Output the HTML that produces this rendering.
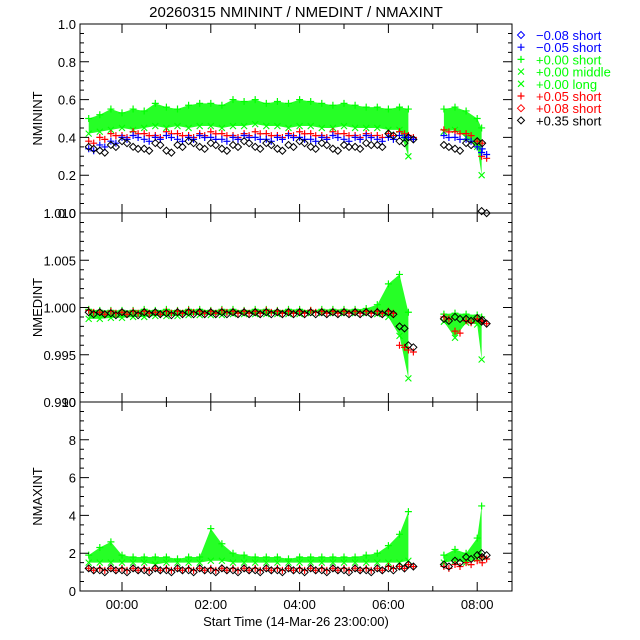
<!DOCTYPE html>
<html><head><meta charset="utf-8"><style>
body{margin:0;background:#fff;}
svg{display:block;font-family:"Liberation Sans",sans-serif;}
</style></head><body>
<svg id="c" width="640" height="640" xmlns="http://www.w3.org/2000/svg">
<text x="296" y="17" font-size="15" text-anchor="middle">20260315 NMININT / NMEDINT / NMAXINT</text>
<g id="legend"></g>
<g id="plots"></g>
<text x="296" y="626" font-size="13" text-anchor="middle">Start Time (14-Mar-26 23:00:00)</text>
</svg>
<script>
const times=[-0.75,-0.5,-0.25,0,0.25,0.5,0.75,1,1.25,1.5,1.75,2,2.25,2.5,2.75,3,3.25,3.5,3.75,4,4.25,4.5,4.75,5,5.25,5.5,5.75,6,6.25,6.45,7.25,7.5,7.75,8.0,8.1];
// panel 1 NMININT
const p1GreenHi=[0.5,0.52,0.55,0.53,0.55,0.54,0.58,0.56,0.55,0.57,0.58,0.58,0.57,0.6,0.59,0.6,0.58,0.59,0.58,0.6,0.59,0.58,0.57,0.58,0.57,0.56,0.56,0.55,0.56,0.55,0.55,0.56,0.54,0.5,0.45];
const p1GreenLo=[0.42,0.43,0.44,0.45,0.44,0.45,0.46,0.45,0.46,0.45,0.46,0.46,0.45,0.46,0.46,0.47,0.46,0.46,0.45,0.46,0.46,0.45,0.45,0.46,0.45,0.45,0.45,0.44,0.44,0.3,0.43,0.44,0.4,0.35,0.2];
const p1Red=[0.38,0.4,0.42,0.41,0.43,0.42,0.41,0.43,0.42,0.41,0.42,0.43,0.42,0.41,0.42,0.43,0.42,0.41,0.42,0.43,0.42,0.41,0.43,0.42,0.41,0.42,0.41,0.42,0.43,0.41,0.44,0.43,0.42,0.38,0.3];
const p1Blue=[0.34,0.36,0.38,0.4,0.41,0.39,0.4,0.41,0.39,0.4,0.41,0.4,0.39,0.4,0.41,0.4,0.39,0.4,0.41,0.4,0.39,0.4,0.41,0.39,0.4,0.41,0.39,0.4,0.41,0.4,0.41,0.4,0.39,0.35,0.32];
const p1Black=[0.35,0.33,0.36,0.38,0.35,0.34,0.37,0.33,0.36,0.38,0.35,0.37,0.34,0.36,0.38,0.35,0.37,0.34,0.36,0.38,0.35,0.37,0.34,0.36,0.35,0.37,0.36,0.42,0.38,0.4,0.36,0.34,0.37,0.38,0.01];
// panel 2 NMEDINT
const p2GreenHi=[0.9998,0.9997,0.9997,0.9997,0.9997,0.9998,0.9997,0.9998,0.9997,0.9998,0.9998,0.9997,0.9998,0.9998,0.9997,0.9998,0.9998,0.9997,0.9998,0.9998,0.9997,0.9998,0.9998,0.9998,0.9998,0.9999,1.0003,1.0025,1.0035,0.9995,0.9993,0.9994,0.9993,0.9992,0.9990];
const p2GreenLo=[0.9988,0.9988,0.9989,0.9989,0.9990,0.9990,0.9991,0.9991,0.9991,0.9992,0.9992,0.9992,0.9992,0.9993,0.9993,0.9993,0.9993,0.9993,0.9993,0.9993,0.9994,0.9994,0.9994,0.9994,0.9994,0.9994,0.9993,0.9990,0.9970,0.9925,0.9985,0.9968,0.9984,0.9982,0.9945];
const p2Red=[0.9997,0.9995,0.9996,0.9995,0.9996,0.9996,0.9995,0.9996,0.9996,0.9997,0.9996,0.9996,0.9997,0.9996,0.9996,0.9996,0.9997,0.9996,0.9996,0.9996,0.9997,0.9996,0.9996,0.9996,0.9996,0.9996,0.9996,0.9996,0.9960,0.9955,0.9990,0.9975,0.9986,0.9988,0.9985];
const p2Black=[0.9995,0.9995,0.9994,0.9995,0.9994,0.9995,0.9995,0.9994,0.9995,0.9995,0.9995,0.9995,0.9995,0.9995,0.9995,0.9995,0.9995,0.9995,0.9995,0.9995,0.9995,0.9995,0.9995,0.9995,0.9995,0.9995,0.9995,0.9995,0.9980,0.9960,0.9988,0.9990,0.9988,0.9989,0.9985];
// panel 3 NMAXINT
const p3GreenHi=[1.9,2.3,2.6,1.9,1.8,1.8,1.8,1.8,1.7,1.8,1.8,3.3,2.5,2.0,1.9,1.8,1.8,1.8,1.7,1.8,1.8,1.8,1.8,1.8,1.8,1.9,2.0,2.4,3.0,4.2,1.9,2.2,2.0,2.8,4.5];
const p3GreenLo=[1.5,1.5,1.5,1.5,1.5,1.5,1.4,1.5,1.5,1.5,1.5,1.6,1.6,1.5,1.5,1.5,1.5,1.5,1.5,1.5,1.5,1.5,1.5,1.5,1.5,1.5,1.5,1.5,1.5,1.6,1.5,1.6,1.5,1.7,1.8];
const p3Red=[1.2,1.2,1.2,1.2,1.2,1.2,1.2,1.2,1.2,1.2,1.2,1.2,1.2,1.2,1.2,1.2,1.2,1.2,1.2,1.2,1.2,1.2,1.2,1.2,1.2,1.2,1.2,1.3,1.3,1.4,1.3,1.4,1.5,1.6,1.8];
const p3Black=[1.2,1.1,1.2,1.1,1.2,1.1,1.2,1.1,1.2,1.1,1.2,1.1,1.2,1.1,1.2,1.1,1.2,1.1,1.2,1.1,1.2,1.1,1.2,1.1,1.2,1.1,1.2,1.2,1.3,1.4,1.4,1.6,1.8,1.9,2.0];
const xTickLabels=["00:00","02:00","04:00","06:00","08:00"];
const p1Ticks=["0.0","0.2","0.4","0.6","0.8","1.0"];
const p2Ticks=["0.990","0.995","1.000","1.005","1.010"];
const p3Ticks=["0","2","4","6","8","10"];

const NS="http://www.w3.org/2000/svg";
const svg=document.getElementById('c');
const plots=document.getElementById('plots');
const L=80,R=512;
const X=t=>122+t*44.4;
function mk(tag,attrs,parent){const e=document.createElementNS(NS,tag);for(const k in attrs)e.setAttribute(k,attrs[k]);(parent||plots).appendChild(e);return e;}
function marker(g,type,x,y,col){
  if(type==='plus'){mk('path',{d:`M${x-3.5},${y}H${x+3.5}M${x},${y-3.5}V${y+3.5}`,stroke:col,'stroke-width':1.2,fill:'none'},g);}
  else if(type==='x'){mk('path',{d:`M${x-3},${y-3}L${x+3},${y+3}M${x-3},${y+3}L${x+3},${y-3}`,stroke:col,'stroke-width':1.1,fill:'none'},g);}
  else{mk('path',{d:`M${x},${y-3.5}L${x+3.5},${y}L${x},${y+3.5}L${x-3.5},${y}Z`,stroke:col,'stroke-width':1,fill:'none'},g);}
}
const panels=[
 {top:24,bot:213,min:0,max:1,ticks:p1Ticks,title:'NMININT',minor:4,g:[p1GreenHi,p1GreenLo],s:[[p1Red,'plus','#f00'],[p1Blue,'plus','#00f'],[p1Black,'diamond','#000']]},
 {top:213,bot:402,min:0.99,max:1.01,ticks:p2Ticks,title:'NMEDINT',minor:5,g:[p2GreenHi,p2GreenLo],s:[[p2Red,'plus','#f00'],[p2Black,'diamond','#000']]},
 {top:402,bot:591,min:0,max:10,ticks:p3Ticks,title:'NMAXINT',minor:4,g:[p3GreenHi,p3GreenLo],s:[[p3Red,'plus','#f00'],[p3Black,'diamond','#000']]}
];
panels.forEach((p,pi)=>{
  const Y=v=>p.bot-(v-p.min)/(p.max-p.min)*(p.bot-p.top);
  const g=mk('g',{});
  
  
  // green bands per segment
  [[0,30],[30,35]].forEach(([a,b])=>{
    let d='';
    for(let i=a;i<b;i++)d+=(i===a?'M':'L')+X(times[i])+','+Y(p.g[0][i]);
    for(let i=b-1;i>=a;i--)d+='L'+X(times[i])+','+Y(p.g[1][i]);
    const band=mk('path',{d:d+'Z',fill:'#00ff00',opacity:0.85},g);
    
    
  });
  times.forEach((t,i)=>{marker(g,'plus',X(t),Y(p.g[0][i]),'#0f0');marker(g,'x',X(t),Y(p.g[1][i]),'#0f0');});
  p.s.forEach(([arr,type,col])=>{times.forEach((t,i)=>{marker(g,type,X(t),Y(arr[i]),col);marker(g,type,X(t)+5,Y(arr[i])+2,col);});});
  // frame
  const fr=mk('rect',{x:L,y:p.top,width:R-L,height:p.bot-p.top,fill:'none',stroke:'#000','stroke-width':1},g);
  
  
  // y ticks
  const n=p.ticks.length-1;
  for(let k=0;k<=n;k++){
    const v=p.min+(p.max-p.min)*k/n, y=Y(v);
    mk('path',{d:`M${L},${y}h9M${R},${y}h-9`,stroke:'#000'},g);
    const tx=mk('text',{x:L-4,y:y+5,'font-size':13,'text-anchor':'end'},g);
    tx.textContent=p.ticks[k];
    
    
    if(k<n)for(let m=1;m<p.minor;m++){const ym=y-(p.bot-p.top)/n*m/p.minor;mk('path',{d:`M${L},${ym}h4M${R},${ym}h-4`,stroke:'#000'},g);}
  }
  // x ticks
  for(let h=0;h<=8;h++){const x=X(h);const len=h%2===0?9:5;mk('path',{d:`M${x},${p.bot}v-${len}M${x},${p.top}v${len}`,stroke:'#000'},g);}
  const yt=mk('text',{x:0,y:0,'font-size':13,'text-anchor':'middle',transform:`translate(42,${(p.top+p.bot)/2}) rotate(-90)`},g);
  yt.textContent=p.title;
  
  
});
xTickLabels.forEach((s,i)=>{const t=mk('text',{x:X(i*2),y:609,'font-size':13,'text-anchor':'middle'});t.textContent=s;
  
  });
// legend
const leg=document.getElementById('legend');
const legendItems=[['diamond','#00f','\u22120.08 short'],['plus','#00f','\u22120.05 short'],['plus','#0f0','+0.00 short'],['x','#0f0','+0.00 middle'],['x','#0f0','+0.00 long'],['plus','#f00','+0.05 short'],['diamond','#f00','+0.08 short'],['diamond','#000','+0.35 short']];
legendItems.forEach(([type,col,lab],i)=>{
  const y=35+i*12.2;
  const g=mk('g',{},leg);
  
  
  marker(g,type,521,y,col);
  const t=mk('text',{x:536,y:y+5,'font-size':13,fill:col},g);t.textContent=lab;
});
</script>
</body></html>
